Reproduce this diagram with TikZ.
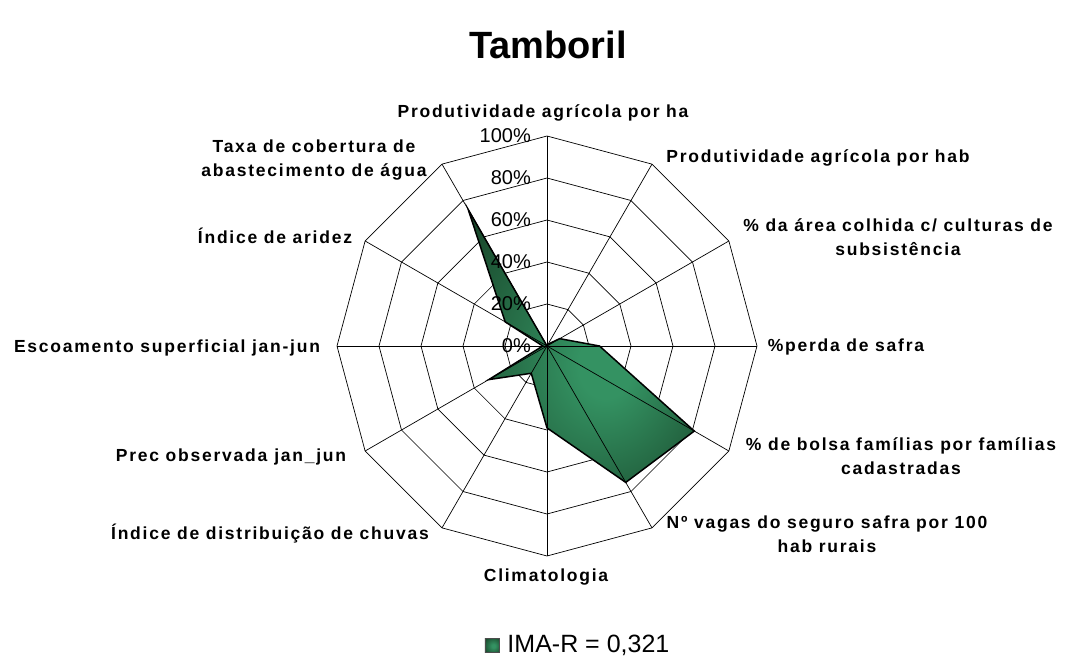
\documentclass[tikz,border=0pt]{standalone}
\usepackage{fontspec}
\setmainfont{Liberation Sans}
\newfontfamily\lblfont[LetterSpace=10]{Liberation Sans}
\usetikzlibrary{positioning}
\definecolor{imalight}{RGB}{52,146,98}
\definecolor{imadark}{RGB}{24,70,42}
\pgfdeclareradialshading{imafill}{\pgfpoint{6bp}{-4bp}}{color(0bp)=(imalight); color(6bp)=(imalight); color(36bp)=(imadark); color(60bp)=(imadark)}

\begin{document}
\begin{tikzpicture}[x=1pt,y=1pt,
  gridline/.style={draw=black,line width=0.7pt},
  axislabel/.style={font=\lblfont\bfseries\fontsize{17.5}{24}\selectfont,align=center,inner sep=0pt},
  pctlabel/.style={font=\fontsize{20}{24}\selectfont,anchor=east,inner sep=0pt},
  series/.style={draw=black,line width=1.5pt,line join=miter}]
\useasboundingbox (-547,-311) rectangle (522,346);
\coordinate (O) at (0,0);
\foreach \r in {42,84,...,210}
  \draw[gridline] (90:\r) \foreach \a in {60,30,...,-240}{ -- (\a:\r)} -- cycle;
\foreach \a in {90,60,...,-240}
  \draw[gridline] (O) -- (\a:210);
\foreach \v [count=\i from 0] in {0,0.01,0.07,0.25,0.81,0.75,0.39,0.15,0.32,0.02,0.23,0.75}
  \coordinate (v\i) at ({90-30*\i}:{210*\v});
\shade[shading=imafill] (v0) \foreach \i in {1,...,11}{ -- (v\i)} -- cycle;
\foreach \i in {0,...,11}
  \draw[gridline] (O) -- (v\i);
\draw[series] (v0) \foreach \i in {1,...,11}{ -- (v\i)} -- cycle;
\foreach \k in {0,20,...,100}
  \node[pctlabel] (pct\k) at (-16,{2.1*\k}) {\k\%};
\node[font=\bfseries\fontsize{38}{44}\selectfont,anchor=base] (title) at (1,288) {Tamboril};
\node[axislabel] (prodha) at (-4,233) {Produtividade agrícola por ha};
\node[axislabel] (prodhab) at (271,188) {Produtividade agrícola por hab};
\node[axislabel] (area) at (351,109) {\% da área colhida c/ culturas de\\subsistência};
\node[axislabel] (perda) at (299,-1) {\%perda de safra};
\node[axislabel] (bolsa) at (354,-110) {\% de bolsa famílias por famílias\\cadastradas};
\node[axislabel] (vagas) at (280,-188) {Nº vagas do seguro safra por 100\\hab rurais};
\node[axislabel] (clima) at (-1,-231) {Climatologia};
\node[axislabel] (distrib) at (-277,-188) {Índice de distribuição de chuvas};
\node[axislabel] (prec) at (-316,-111) {Prec observada\hspace{0.4em}jan\_jun};
\node[axislabel] (escoa) at (-380,-2) {Escoamento superficial jan-jun};
\node[axislabel] (aridez) at (-272,110) {Índice de aridez};
\node[axislabel] (taxa) at (-233,186) {Taxa de cobertura de\\abastecimento de água};
\node[draw=black!70,line width=0.6pt,shading=imafill,minimum size=14pt,inner sep=0pt] (legkey) at (-55,-299) {};
\node[right=8pt of legkey,font=\fontsize{25}{30}\selectfont,inner sep=0pt] (legtext) {IMA-R = 0,321};
\end{tikzpicture}
\end{document}
